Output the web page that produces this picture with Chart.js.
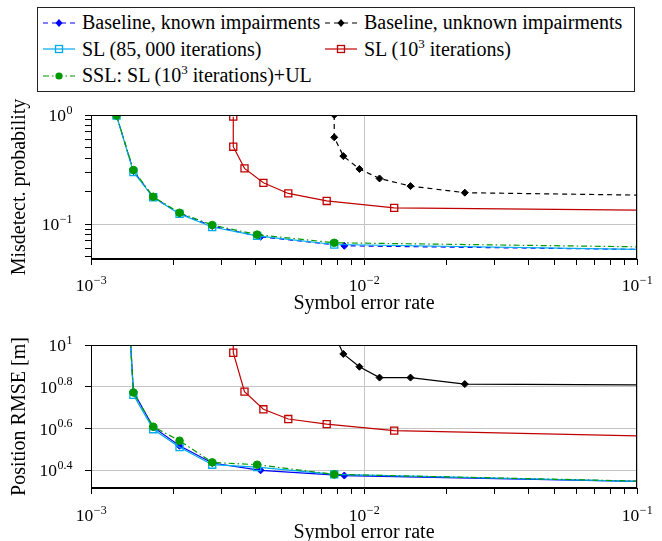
<!DOCTYPE html>
<html>
<head>
<meta charset="utf-8">
<script src="https://cdn.jsdelivr.net/npm/chart.js@4.4.0/dist/chart.umd.min.js"></script>
<style>
  html, body { margin: 0; padding: 0; background: #fff; }
  body { width: 662px; height: 541px; position: relative; overflow: hidden; font-family: 'Liberation Serif', 'Times New Roman', serif; }
  #legend { position: absolute; left: 37px; top: 7px; width: 598px; height: 85px; border: 1px solid #222; box-sizing: border-box; }
  .item { position: absolute; height: 26px; display: flex; align-items: center; font-size: 20px; white-space: nowrap; color: #000; }
  .item svg { margin-right: 7px; }
  .item sup { font-size: 13px; line-height: 0; }
  #wrap1 { position: absolute; left: 0; top: 95px; width: 662px; height: 220px; }
  #wrap2 { position: absolute; left: 0; top: 315px; width: 662px; height: 226px; }
</style>
</head>
<body>
<div id="legend"></div>
<div id="wrap1"><canvas id="pmdChart"></canvas></div>
<div id="wrap2"><canvas id="rmseChart"></canvas></div>
<script>
// axis tick labels (exponents of 10)
const xTickExps = [-3, -2, -1];
const pmdTickExps = [-1, 0];
const rmseTickExps = [0.4, 0.6, 0.8, 1];

// symbol error rate of each point (last point sits on the right edge, no marker)
const knownSer   = [1.24e-3, 1.43e-3, 1.69e-3, 2.11e-3, 2.78e-3, 4.18e-3, 8.47e-3, 0.1];
const unknownSer = [7.78e-3, 7.78e-3, 8.4e-3, 9.62e-3, 1.14e-2, 1.48e-2, 2.34e-2, 0.1];
const slLongSer  = [1.24e-3, 1.43e-3, 1.69e-3, 2.11e-3, 2.78e-3, 4.06e-3, 7.78e-3, 0.1];
const slShortSer = [3.32e-3, 3.32e-3, 3.65e-3, 4.28e-3, 5.28e-3, 7.3e-3, 1.29e-2, 0.1];
const sslSer     = [1.24e-3, 1.43e-3, 1.69e-3, 2.11e-3, 2.78e-3, 4.06e-3, 7.78e-3, 0.1];

// misdetection probability
const knownPmd   = [0.99, 0.306, 0.176, 0.125, 0.096, 0.0765, 0.0632, 0.0586];
const unknownPmd = [1.0, 0.624, 0.42, 0.32, 0.262, 0.223, 0.194, 0.1845];
const slLongPmd  = [0.99, 0.30, 0.176, 0.124, 0.094, 0.078, 0.065, 0.0586];
const slShortPmd = [0.966, 0.512, 0.324, 0.239, 0.191, 0.163, 0.141, 0.134];
const sslPmd     = [0.99, 0.313, 0.178, 0.127, 0.098, 0.080, 0.0674, 0.0619];

// position RMSE [m]
const knownRmse   = [150, 5.98, 4.04, 3.29, 2.72, 2.51, 2.37, 2.22];
const unknownRmse = [14, 11.3, 9.06, 7.87, 6.98, 6.98, 6.50, 6.44];
const slLongRmse  = [150, 5.77, 3.95, 3.24, 2.67, 2.60, 2.40, 2.22];
const slShortRmse = [20, 9.18, 5.98, 4.92, 4.42, 4.18, 3.89, 3.67];
const sslRmse     = [150, 5.92, 4.06, 3.48, 2.74, 2.67, 2.40, 2.23];

const FONT = '"Liberation Serif", "Times New Roman", serif';

// baselines are dashed in the upper plot but solid in the lower one
const series = [
  { label: 'Baseline, known impairments', color: '#0000ff', dash: [5, 4], rmseDash: [], marker: 'rectRot', fill: true, r: 3.5, ser: knownSer, pmd: knownPmd, rmse: knownRmse, order: 4 },
  { label: 'Baseline, unknown impairments', color: '#000000', dash: [5, 4], rmseDash: [], marker: 'rectRot', fill: true, r: 3.5, ser: unknownSer, pmd: unknownPmd, rmse: unknownRmse, order: 3 },
  { label: 'SL (85,000 iterations)', color: '#00aaee', dash: [], rmseDash: [], marker: 'rect', fill: false, r: 5, ser: slLongSer, pmd: slLongPmd, rmse: slLongRmse, order: 2 },
  { label: 'SL (10^3 iterations)', color: '#c00000', dash: [], rmseDash: [], marker: 'rect', fill: false, r: 5, ser: slShortSer, pmd: slShortPmd, rmse: slShortRmse, order: 1 },
  { label: 'SSL: SL (10^3 iterations)+UL', color: '#009900', dash: [6, 3, 1.5, 3], rmseDash: [6, 3, 1.5, 3], marker: 'circle', fill: true, r: 3.8, ser: sslSer, pmd: sslPmd, rmse: sslRmse, order: 0 },
];

function makeDatasets(key) {
  return series.map(s => {
    const n = s.ser.length;
    return {
      label: s.label,
      data: s.ser.map((x, i) => ({ x: x, y: s[key][i] })),
      borderColor: s.color,
      borderWidth: 1.2,
      borderDash: key === 'rmse' ? s.rmseDash : s.dash,
      pointStyle: s.marker,
      pointRadius: ctx => ctx.dataIndex === n - 1 ? 0 : s.r,
      pointBackgroundColor: s.fill ? s.color : 'rgba(0,0,0,0)',
      pointBorderColor: s.color,
      pointBorderWidth: s.fill ? 1 : 1.3,
      tension: 0,
      fill: false,
      order: s.order,
    };
  });
}

// legend
const legendPos = [[5, 1.5], [287, 1.5], [5, 28.2], [287, 28.2], [5, 54.9]];
const legendHtml = [
  'Baseline, known impairments',
  'Baseline, unknown impairments',
  'SL (85,&thinsp;000 iterations)',
  'SL (10<sup>3</sup> iterations)',
  'SSL: SL (10<sup>3</sup> iterations)+UL',
];
const legend = document.getElementById('legend');
series.forEach((s, i) => {
  let mk = '';
  if (s.marker === 'rectRot') mk = `<polygon points="16,3 19.5,7 16,11 12.5,7" fill="${s.color}"/>`;
  else if (s.marker === 'rect') mk = `<rect x="12.5" y="3.5" width="7" height="7" fill="none" stroke="${s.color}" stroke-width="1.3"/>`;
  else mk = `<circle cx="16" cy="7" r="3.6" fill="${s.color}"/>`;
  const el = document.createElement('div');
  el.className = 'item';
  el.style.left = legendPos[i][0] + 'px';
  el.style.top = legendPos[i][1] + 'px';
  el.innerHTML = `<svg width="32" height="14"><line x1="0" y1="7" x2="32" y2="7" stroke="${s.color}" stroke-width="1.2" stroke-dasharray="${s.dash.join(' ')}"/>${mk}</svg><span>${legendHtml[i]}</span>`;
  legend.appendChild(el);
});

function fmtExp(e) {
  return e < 0 ? '\u2212' + Math.abs(e) : String(e);
}

function drawPow(ctx, e, x, y, align) {
  const base = '10', sup = fmtExp(e);
  ctx.font = '17.5px ' + FONT;
  const bw = ctx.measureText(base).width;
  ctx.font = '12px ' + FONT;
  const sw = ctx.measureText(sup).width;
  const x0 = align === 'center' ? x - (bw + sw) / 2 : x - bw - sw;
  ctx.textAlign = 'left';
  ctx.textBaseline = 'alphabetic';
  ctx.font = '17.5px ' + FONT;
  ctx.fillText(base, x0, y);
  ctx.font = '12px ' + FONT;
  ctx.fillText(sup, x0 + bw + 0.5, y - 7.5);
}

const frameAndLabels = {
  id: 'frameAndLabels',
  afterDraw(chart, args, opts) {
    const ctx = chart.ctx, a = chart.chartArea;
    ctx.save();
    ctx.strokeStyle = '#000';
    ctx.lineWidth = 1;
    ctx.strokeRect(Math.round(a.left) + 0.5, Math.round(a.top) + 0.5, Math.round(a.right - a.left) - 1, Math.round(a.bottom - a.top) - 1);
    ctx.fillStyle = '#000';
    const xs = chart.scales.x, ys = chart.scales.y;
    xTickExps.forEach(e => drawPow(ctx, e, xs.getPixelForValue(Math.pow(10, e)), a.bottom + opts.xLabelGap, 'center'));
    opts.yExps.forEach(e => drawPow(ctx, e, 72, ys.getPixelForValue(Math.pow(10, e)) + 6, 'right'));
    ctx.font = '20px ' + FONT;
    ctx.textAlign = 'center';
    ctx.textBaseline = 'alphabetic';
    ctx.fillText('Symbol error rate', (a.left + a.right) / 2, a.bottom + opts.xTitleGap);
    ctx.translate(20, (a.top + a.bottom) / 2);
    ctx.rotate(-Math.PI / 2);
    ctx.textBaseline = 'middle';
    ctx.fillText(opts.yTitle, 0, 0);
    ctx.restore();
  }
};

const xMinor = [];
[1e-3, 1e-2].forEach(d => { for (let k = 1; k <= 9; k++) xMinor.push(k * d); });
xMinor.push(1e-1);

function isMajor(v, exps) {
  return exps.some(e => Math.abs(Math.log10(v) - e) < 1e-6);
}

function makeChart(id, key, yMin, yMax, yTicks, yExps, yTitle, padTop, xHeight, xLabelGap, xTitleGap) {
  return new Chart(document.getElementById(id), {
    type: 'line',
    data: { datasets: makeDatasets(key) },
    plugins: [frameAndLabels],
    options: {
      responsive: true,
      maintainAspectRatio: false,
      animation: false,
      layout: { padding: { left: 0, right: 25, top: padTop, bottom: 0 } },
      plugins: {
        legend: { display: false },
        tooltip: { enabled: false },
        frameAndLabels: { yExps: yExps, yTitle: yTitle, xLabelGap: xLabelGap, xTitleGap: xTitleGap },
      },
      scales: {
        x: {
          type: 'logarithmic',
          min: 1e-3,
          max: 1e-1,
          afterBuildTicks: s => { s.ticks = xMinor.map(v => ({ value: v })); },
          afterFit: s => { s.height = xHeight; },
          ticks: { display: false },
          grid: {
            color: c => c.tick && isMajor(c.tick.value, xTickExps) ? '#c4c4c4' : 'rgba(0,0,0,0)',
            tickColor: '#000',
            tickLength: 6,
            lineWidth: 1,
          },
          border: { display: true, color: '#000', width: 1 },
        },
        y: {
          type: 'logarithmic',
          min: yMin,
          max: yMax,
          afterBuildTicks: s => { s.ticks = yTicks.map(v => ({ value: v })); },
          afterFit: s => { s.width = 91; },
          ticks: { display: false },
          grid: {
            color: c => c.tick && isMajor(c.tick.value, yExps) ? '#c4c4c4' : 'rgba(0,0,0,0)',
            tickColor: '#000',
            tickLength: 6,
            lineWidth: 1,
          },
          border: { display: true, color: '#000', width: 1 },
        },
      },
    },
  });
}

const pmdTicks = [];
for (let k = 5; k <= 9; k++) pmdTicks.push(k * 0.01);
for (let k = 1; k <= 10; k++) pmdTicks.push(k * 0.1);
const rmseTicks = rmseTickExps.map(e => Math.pow(10, e));

makeChart('pmdChart', 'pmd', Math.pow(10, -1.32), 1, pmdTicks, pmdTickExps, 'Misdetect. probability', 20, 56, 32, 50);
makeChart('rmseChart', 'rmse', Math.pow(10, 0.315), 10, rmseTicks, rmseTickExps, 'Position RMSE [m]', 30, 53, 33, 50);
</script>
</body>
</html>
